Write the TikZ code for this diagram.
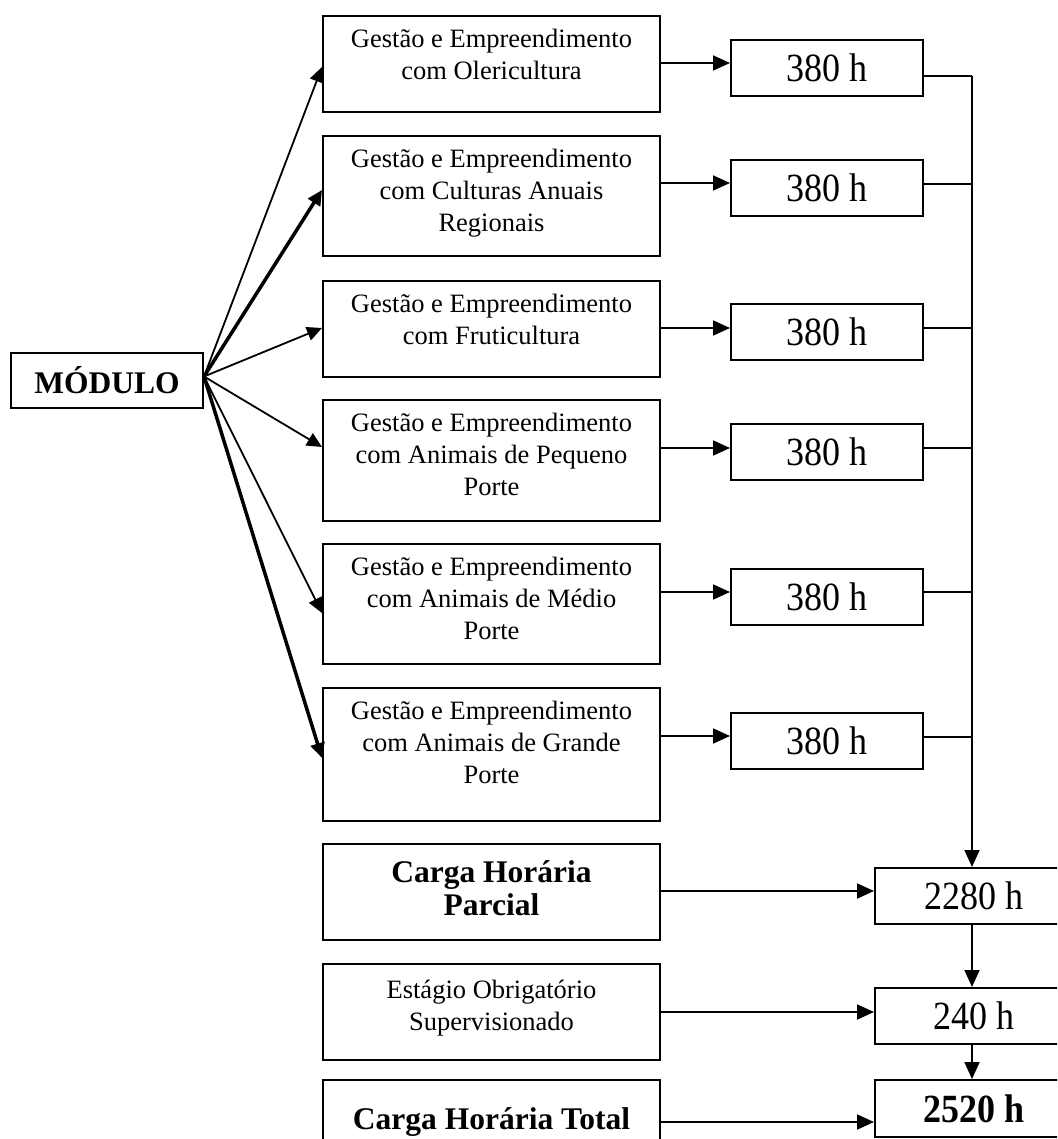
\documentclass[tikz,border=0pt]{standalone}
\usepackage{fontspec}
\setmainfont{Liberation Serif}
\newfontfamily\numfont[FakeStretch=0.9]{Liberation Serif}
\usetikzlibrary{arrows.meta}
\begin{document}
\begin{tikzpicture}[x=1pt,y=-1pt,
  box/.style={draw, line width=2pt, inner sep=0pt},
  mbox/.style={box, minimum width=337pt},
  hbox/.style={box, minimum width=192pt, minimum height=56pt, font=\numfont\fontsize{40}{42}\selectfont},
  rbox/.style={box, minimum width=198pt, minimum height=56pt, font=\numfont\fontsize{40}{42}\selectfont},
  txt/.style={align=center, inner sep=0pt, anchor=north, font=\fontsize{26.5}{32}\selectfont},
  btxt/.style={align=center, inner sep=0pt, anchor=north, font=\fontsize{31.5}{33}\selectfont\bfseries},
  arr/.style={line width=1.8pt, -{Triangle[length=17pt,width=15pt]}},
  fan/.style={line width=1.8pt, -{Triangle[length=15pt,width=14pt]}},
  bigfan/.style={line width=3.5pt, -{Triangle[length=15pt,width=14pt]}},
  ln/.style={line width=1.8pt}
]
\useasboundingbox (0,0) rectangle (1057,1139);
\clip (0,0) rectangle (1057,1139);

% MODULO
\node[box, minimum width=192pt, minimum height=55pt, font=\fontsize{31.5}{33}\selectfont\bfseries] (mod) at (107,380.5) {MÓDULO};

% module boxes
\node[mbox, minimum height=96pt] (m1) at (491.5,64) {};
\node[txt] (m1t) at ([yshift=-14pt]m1.north) {Gestão e Empreendimento\\com Olericultura};
\node[mbox, minimum height=120pt] (m2) at (491.5,196) {};
\node[txt] (m2t) at ([yshift=-14pt]m2.north) {Gestão e Empreendimento\\com Culturas Anuais\\Regionais};
\node[mbox, minimum height=96pt] (m3) at (491.5,329) {};
\node[txt] (m3t) at ([yshift=-14pt]m3.north) {Gestão e Empreendimento\\com Fruticultura};
\node[mbox, minimum height=121pt] (m4) at (491.5,460.5) {};
\node[txt] (m4t) at ([yshift=-14pt]m4.north) {Gestão e Empreendimento\\com Animais de Pequeno\\Porte};
\node[mbox, minimum height=120pt] (m5) at (491.5,604) {};
\node[txt] (m5t) at ([yshift=-14pt]m5.north) {Gestão e Empreendimento\\com Animais de Médio\\Porte};
\node[mbox, minimum height=133pt] (m6) at (491.5,754.5) {};
\node[txt] (m6t) at ([yshift=-14pt]m6.north) {Gestão e Empreendimento\\com Animais de Grande\\Porte};

\node[mbox, minimum height=96pt] (cp) at (491.5,892) {};
\node[btxt] (cpt) at ([yshift=-17.5pt]cp.north) {Carga Horária\\Parcial};
\node[mbox, minimum height=96pt] (es) at (491.5,1012) {};
\node[txt] (est) at ([yshift=-17pt]es.north) {Estágio Obrigatório\\Supervisionado};
\node[mbox, minimum height=96pt] (ct) at (491.5,1128) {};
\node[btxt] (ctt) at ([yshift=-28pt]ct.north) {Carga Horária Total};

% hour boxes
\node[hbox] (h1) at (827,68) {380 h};
\node[hbox] (h2) at (827,188) {380 h};
\node[hbox] (h3) at (827,332) {380 h};
\node[hbox] (h4) at (827,452) {380 h};
\node[hbox] (h5) at (827,597) {380 h};
\node[hbox] (h6) at (827,741) {380 h};

\node[rbox] (p) at (974,896) {2280 h};
\node[rbox] (e) at (974,1016) {240 h};
\node[rbox, minimum height=57pt, font=\numfont\fontsize{40}{42}\selectfont\bfseries] (t) at (974,1108.5) {2520 h};

% fan arrows
\coordinate (o) at ([yshift=4pt]mod.east);
\draw[fan] (o) -- (m1.west |- 0,67);
\draw[bigfan] (o) -- (m2.west |- 0,190);
\draw[fan] (o) -- (m3.west |- 0,328);
\draw[fan] (o) -- (m4.west |- 0,447);
\draw[fan] (o) -- (m5.west |- 0,613);
\draw[bigfan] (o) -- (m6.west |- 0,758);

% module -> hours
\draw[arr] (m1.east |- 0,63) -- (h1.west |- 0,63);
\draw[arr] (m2.east |- 0,183) -- (h2.west |- 0,183);
\draw[arr] (m3.east |- 0,328) -- (h3.west |- 0,328);
\draw[arr] (m4.east |- 0,448) -- (h4.west |- 0,448);
\draw[arr] (m5.east |- 0,592) -- (h5.west |- 0,592);
\draw[arr] (m6.east |- 0,736) -- (h6.west |- 0,736);

% bus
\coordinate (b1) at (972,76);
\draw[ln] (h1.east |- b1) -- (b1);
\draw[ln] (h2.east |- 0,184) -- (b1 |- 0,184);
\draw[ln] (h3.east |- 0,328) -- (b1 |- 0,328);
\draw[ln] (h4.east |- 0,448) -- (b1 |- 0,448);
\draw[ln] (h5.east |- 0,592) -- (b1 |- 0,592);
\draw[ln] (h6.east |- 0,737) -- (b1 |- 0,737);
\draw[arr] (b1) -- (b1 |- p.north);
\draw[arr] (b1 |- p.south) -- (b1 |- e.north);
\draw[arr] (b1 |- e.south) -- (b1 |- t.north);

% bottom arrows
\draw[arr] (cp.east |- 0,891) -- (p.west |- 0,891);
\draw[arr] (es.east |- 0,1012) -- (e.west |- 0,1012);
\draw[arr] (ct.east |- 0,1122) -- (t.west |- 0,1122);
\end{tikzpicture}
\end{document}
